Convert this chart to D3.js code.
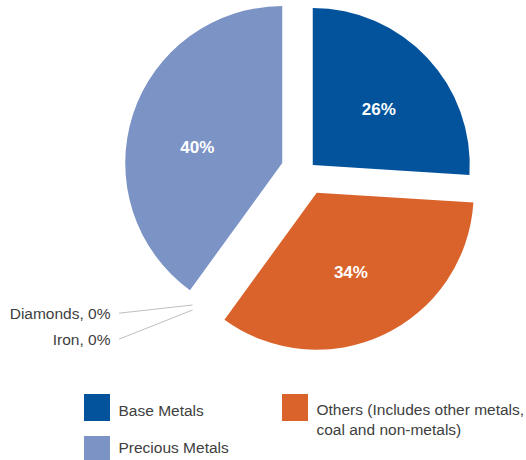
<!DOCTYPE html>
<html>
<head>
<meta charset="utf-8">
<script src="https://cdn.jsdelivr.net/npm/d3@7/dist/d3.min.js"></script>
<style>
  html, body { margin: 0; padding: 0; background: #ffffff; }
  svg { display: block; }
  text { font-family: "Liberation Sans", Arial, sans-serif; }
</style>
</head>
<body>
<div id="chart"></div>
<script>
// Share of projects by commodity (pie order, clockwise from 12 o'clock)
const categories = ["Base Metals", "Others (Includes other metals, coal and non-metals)", "Diamonds", "Iron", "Precious Metals"];
const shares = [26, 34, 0, 0, 40];
const sliceLabels = ["26%", "34%", "0%", "0%", "40%"];
const colors = ["#02529c", "#d9632a", "#a5a5a5", "#7f7f7f", "#7b93c5"];

// legend entries (rows of text for each entry)
const legendItems = [
  { idx: 0, lines: ["Base Metals"] },
  { idx: 4, lines: ["Precious Metals"] },
  { idx: 1, lines: ["Others (Includes other metals,", "coal and non-metals)"] }
];

const width = 526, height = 460;
const cx = 306.5, cy = 171, radius = 157;
// how far each slice is pulled out from the centre, in px
const explode = [8.6, 24, 22, 22, 25.5];
// small angular nudge (degrees) and radius for the in-slice value labels
const labelNudge = [2.9, 1.9, 0, 0, -7];
const labelRadius = 86.5;

const svg = d3.select("#chart").append("svg")
  .attr("width", width).attr("height", height);

const data = categories.map((c, i) => ({ name: c, value: shares[i], label: sliceLabels[i], color: colors[i], i }));

const pie = d3.pie().sort(null).value(d => d.value);
const arcs = pie(data);
const arc = d3.arc().innerRadius(0).outerRadius(radius);

const g = svg.append("g").attr("transform", `translate(${cx},${cy})`);

function polar(angle, dist) {
  return [Math.sin(angle) * dist, -Math.cos(angle) * dist];
}
const midAngle = a => (a.startAngle + a.endAngle) / 2;

const slices = g.selectAll("g.slice")
  .data(arcs.filter(a => a.data.value > 0))
  .enter().append("g")
  .attr("class", "slice")
  .attr("transform", a => `translate(${polar(midAngle(a), explode[a.data.i])})`);

slices.append("path")
  .attr("d", arc)
  .attr("fill", a => a.data.color);

slices.append("text")
  .attr("transform", a => {
    const ang = midAngle(a) + labelNudge[a.data.i] * Math.PI / 180;
    return `translate(${polar(ang, labelRadius)})`;
  })
  .attr("text-anchor", "middle")
  .attr("dy", "0.36em")
  .attr("fill", "#ffffff")
  .attr("font-weight", "bold")
  .attr("font-size", 17)
  .text(a => a.data.label);

// zero-value slices get outside labels with leader lines
const zeroArcs = arcs.filter(a => a.data.value === 0);
const zeroLabelPos = [
  { text: [110.5, 318.7], end: [-114, 134] },
  { text: [110.5, 344.7], end: [-114, 139] }
];
zeroArcs.forEach((a, k) => {
  const [tx, ty] = zeroLabelPos[k].text;
  const [ex, ey] = zeroLabelPos[k].end;
  svg.append("line")
    .attr("x1", tx + 8.5).attr("y1", ty - 5.5)
    .attr("x2", cx + ex).attr("y2", cy + ey)
    .attr("stroke", "#bfbfbf").attr("stroke-width", 1);
  svg.append("text")
    .attr("x", tx).attr("y", ty)
    .attr("text-anchor", "end")
    .attr("font-size", 15.5)
    .attr("fill", "#404040")
    .text(`${a.data.name}, ${a.data.label}`);
});

// legend
const legendPos = [[84, 394], [84, 436], [282, 394]];
const legendBaseline = [22, 17, 21];
legendItems.forEach((item, k) => {
  const [lx, ly] = legendPos[k];
  svg.append("rect")
    .attr("x", lx).attr("y", ly)
    .attr("width", 26).attr("height", 27)
    .attr("fill", colors[item.idx]);
  item.lines.forEach((line, j) => {
    svg.append("text")
      .attr("x", lx + 34.5).attr("y", ly + legendBaseline[k] + j * 20)
      .attr("font-size", 15.5)
      .attr("fill", "#404040")
      .text(line);
  });
});
</script>
</body>
</html>
